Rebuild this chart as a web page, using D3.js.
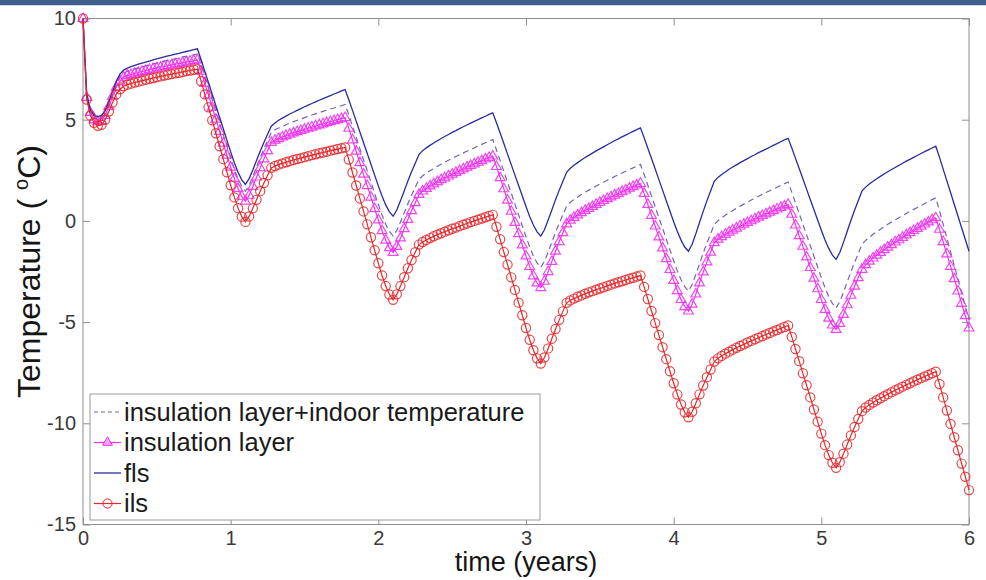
<!DOCTYPE html>
<html>
<head>
<meta charset="utf-8">
<script src="https://cdn.jsdelivr.net/npm/d3@7"></script>
<style>
body { margin: 0; background: #fff; }
svg { display: block; font-family: "Liberation Sans", Arial, sans-serif; }
</style>
</head>
<body>
<svg id="SVG_CONTAINER" width="986" height="580"></svg>
<script>
// sampled every 1/40 year, 0 .. 6
const years = d3.range(241).map(i => i / 40);

const xTicks = [0, 1, 2, 3, 4, 5, 6];
const yTicks = [-15, -10, -5, 0, 5, 10];

const seriesNames = ["insulation layer+indoor temperature", "insulation layer", "fls", "ils"];

// insulation layer + indoor temperature (dashed)
const indoorTemp = [
  10, 6.2, 5.4, 5.1, 5.0, 5.05, 5.3, 5.75, 6.25, 6.75, 7.1, 7.3, 7.39, 7.45, 7.51, 7.56, 7.61, 7.66, 7.71, 7.76, 7.80, 7.85, 7.89, 7.93, 7.97, 8.01, 8.05, 8.10, 8.13, 8.17, 8.21, 8.25,
  7.71, 7.13, 6.56, 5.98, 5.40, 4.83, 4.25, 3.67, 3.10, 2.55, 2.08, 1.71, 1.47, 1.76, 2.20, 2.66, 3.12, 3.56, 3.96, 4.37, 4.50, 4.59, 4.67, 4.75, 4.83, 4.90, 4.97, 5.03, 5.10, 5.16, 5.23, 5.29, 5.35, 5.41, 5.47, 5.53, 5.58, 5.64, 5.69, 5.75,
  5.23, 4.68, 4.13, 3.57, 3.02, 2.47, 1.92, 1.36, 0.81, 0.29, -0.17, -0.52, -0.75, -0.47, -0.05, 0.40, 0.85, 1.27, 1.66, 2.05, 2.23, 2.36, 2.48, 2.59, 2.70, 2.80, 2.90, 3.00, 3.09, 3.18, 3.27, 3.36, 3.44, 3.53, 3.61, 3.70, 3.78, 3.86, 3.94, 4.02,
  3.51, 2.98, 2.44, 1.90, 1.37, 0.83, 0.29, -0.25, -0.78, -1.29, -1.73, -2.08, -2.30, -2.00, -1.54, -1.06, -0.57, -0.12, 0.31, 0.73, 0.92, 1.06, 1.18, 1.30, 1.41, 1.52, 1.62, 1.72, 1.82, 1.91, 2.01, 2.10, 2.19, 2.28, 2.37, 2.45, 2.54, 2.62, 2.71, 2.79,
  2.29, 1.76, 1.23, 0.69, 0.16, -0.37, -0.90, -1.44, -1.97, -2.47, -2.91, -3.25, -3.47, -3.14, -2.65, -2.12, -1.60, -1.10, -0.64, -0.18, 0.01, 0.15, 0.28, 0.40, 0.51, 0.62, 0.73, 0.83, 0.93, 1.03, 1.12, 1.22, 1.31, 1.40, 1.49, 1.58, 1.66, 1.75, 1.84, 1.92,
  1.42, 0.89, 0.37, -0.16, -0.69, -1.22, -1.75, -2.28, -2.81, -3.30, -3.74, -4.08, -4.30, -3.99, -3.52, -3.02, -2.52, -2.05, -1.61, -1.17, -0.96, -0.81, -0.66, -0.53, -0.41, -0.29, -0.17, -0.06, 0.05, 0.16, 0.26, 0.37, 0.47, 0.57, 0.66, 0.76, 0.86, 0.95, 1.05, 1.14,
  0.51, -0.17, -0.85, -1.52, -2.20, -2.87, -3.55, -4.22, -4.90
];

// insulation layer (magenta, triangles)
const insulation = [
  10, 6.1, 5.35, 5.0, 4.9, 4.95, 5.2, 5.65, 6.15, 6.6, 6.9, 7.1, 7.18, 7.23, 7.29, 7.33, 7.38, 7.42, 7.47, 7.51, 7.55, 7.59, 7.63, 7.67, 7.70, 7.74, 7.77, 7.81, 7.85, 7.88, 7.92, 7.95,
  7.39, 6.80, 6.21, 5.61, 5.02, 4.42, 3.83, 3.24, 2.65, 2.09, 1.60, 1.21, 0.97, 1.26, 1.70, 2.16, 2.62, 3.06, 3.46, 3.87, 3.98, 4.06, 4.14, 4.21, 4.28, 4.34, 4.40, 4.46, 4.52, 4.58, 4.63, 4.69, 4.74, 4.79, 4.85, 4.90, 4.95, 5.00, 5.05, 5.10,
  4.57, 4.00, 3.44, 2.87, 2.30, 1.74, 1.17, 0.60, 0.04, -0.49, -0.96, -1.33, -1.56, -1.27, -0.85, -0.39, 0.07, 0.50, 0.90, 1.30, 1.47, 1.60, 1.72, 1.82, 1.93, 2.03, 2.12, 2.21, 2.30, 2.39, 2.48, 2.56, 2.65, 2.73, 2.81, 2.89, 2.97, 3.05, 3.12, 3.20,
  2.68, 2.13, 1.58, 1.02, 0.47, -0.08, -0.64, -1.19, -1.74, -2.26, -2.72, -3.07, -3.30, -2.99, -2.51, -2.01, -1.50, -1.03, -0.59, -0.15, 0.03, 0.17, 0.29, 0.40, 0.51, 0.61, 0.71, 0.81, 0.91, 1.00, 1.09, 1.18, 1.27, 1.35, 1.44, 1.52, 1.61, 1.69, 1.77, 1.85,
  1.35, 0.81, 0.27, -0.26, -0.80, -1.34, -1.87, -2.41, -2.95, -3.45, -3.89, -4.24, -4.46, -4.12, -3.62, -3.07, -2.53, -2.03, -1.55, -1.08, -0.91, -0.78, -0.67, -0.56, -0.46, -0.36, -0.26, -0.17, -0.08, 0.00, 0.09, 0.18, 0.26, 0.34, 0.42, 0.50, 0.58, 0.66, 0.73, 0.81,
  0.32, -0.21, -0.74, -1.26, -1.79, -2.31, -2.84, -3.36, -3.89, -4.38, -4.81, -5.15, -5.37, -5.07, -4.63, -4.15, -3.68, -3.23, -2.81, -2.40, -2.17, -2.00, -1.84, -1.70, -1.56, -1.43, -1.30, -1.18, -1.05, -0.94, -0.82, -0.70, -0.59, -0.48, -0.38, -0.27, -0.16, -0.06, 0.05, 0.15,
  -0.42, -1.03, -1.64, -2.25, -2.86, -3.47, -4.08, -4.69, -5.30
];

// fls (blue solid)
const fls = [
  10, 6.3, 5.5, 5.2, 5.15, 5.2, 5.45, 5.9, 6.4, 6.9, 7.25, 7.45, 7.55, 7.62, 7.68, 7.74, 7.80, 7.85, 7.90, 7.95, 8.00, 8.05, 8.10, 8.15, 8.19, 8.24, 8.28, 8.33, 8.37, 8.41, 8.46, 8.50,
  7.96, 7.39, 6.83, 6.26, 5.69, 5.12, 4.55, 3.98, 3.41, 2.87, 2.40, 2.03, 1.80, 2.09, 2.52, 2.98, 3.44, 3.87, 4.28, 4.68, 4.84, 4.97, 5.08, 5.18, 5.28, 5.37, 5.46, 5.55, 5.64, 5.72, 5.80, 5.88, 5.96, 6.04, 6.12, 6.19, 6.27, 6.34, 6.42, 6.49,
  5.99, 5.46, 4.93, 4.39, 3.86, 3.33, 2.80, 2.26, 1.73, 1.23, 0.79, 0.45, 0.23, 0.54, 0.99, 1.48, 1.97, 2.43, 2.85, 3.28, 3.47, 3.61, 3.73, 3.85, 3.96, 4.07, 4.17, 4.27, 4.37, 4.46, 4.56, 4.65, 4.74, 4.83, 4.92, 5.00, 5.09, 5.17, 5.26, 5.34,
  4.85, 4.34, 3.82, 3.30, 2.78, 2.26, 1.75, 1.23, 0.71, 0.22, -0.20, -0.54, -0.75, -0.44, 0.04, 0.54, 1.05, 1.52, 1.96, 2.40, 2.60, 2.75, 2.88, 3.01, 3.13, 3.24, 3.35, 3.46, 3.56, 3.66, 3.76, 3.86, 3.96, 4.05, 4.15, 4.24, 4.33, 4.42, 4.51, 4.60,
  4.11, 3.59, 3.08, 2.56, 2.04, 1.52, 1.00, 0.48, -0.04, -0.52, -0.95, -1.29, -1.50, -1.15, -0.64, -0.08, 0.47, 0.99, 1.48, 1.96, 2.15, 2.29, 2.42, 2.55, 2.66, 2.77, 2.88, 2.98, 3.08, 3.18, 3.27, 3.37, 3.46, 3.55, 3.64, 3.73, 3.82, 3.91, 4.00, 4.08,
  3.60, 3.09, 2.59, 2.08, 1.57, 1.06, 0.55, 0.04, -0.46, -0.94, -1.36, -1.69, -1.90, -1.56, -1.06, -0.52, 0.02, 0.53, 1.00, 1.47, 1.67, 1.82, 1.96, 2.08, 2.20, 2.32, 2.43, 2.54, 2.64, 2.74, 2.85, 2.95, 3.04, 3.14, 3.23, 3.33, 3.42, 3.51, 3.60, 3.69,
  3.15, 2.56, 1.98, 1.40, 0.82, 0.24, -0.34, -0.92, -1.50
];

// ils (red, circles)
const ils = [
  10, 6.0, 5.2, 4.85, 4.7, 4.75, 5.0, 5.4, 5.85, 6.25, 6.5, 6.65, 6.73, 6.78, 6.84, 6.88, 6.93, 6.97, 7.02, 7.06, 7.10, 7.14, 7.18, 7.22, 7.25, 7.29, 7.32, 7.36, 7.40, 7.43, 7.47, 7.50,
  6.90, 6.25, 5.61, 4.97, 4.33, 3.69, 3.05, 2.40, 1.76, 1.16, 0.63, 0.21, -0.05, 0.22, 0.62, 1.04, 1.47, 1.87, 2.25, 2.62, 2.71, 2.78, 2.84, 2.90, 2.95, 3.01, 3.06, 3.10, 3.15, 3.20, 3.25, 3.29, 3.34, 3.38, 3.42, 3.47, 3.51, 3.55, 3.59, 3.63,
  3.03, 2.39, 1.75, 1.11, 0.47, -0.17, -0.81, -1.45, -2.09, -2.70, -3.22, -3.64, -3.90, -3.63, -3.22, -2.78, -2.34, -1.93, -1.55, -1.17, -1.04, -0.94, -0.85, -0.76, -0.68, -0.61, -0.53, -0.46, -0.39, -0.33, -0.26, -0.19, -0.13, -0.06, 0.00, 0.06, 0.12, 0.18, 0.24, 0.30,
  -0.29, -0.91, -1.54, -2.16, -2.79, -3.41, -4.04, -4.66, -5.29, -5.87, -6.39, -6.79, -7.05, -6.75, -6.30, -5.82, -5.34, -4.89, -4.47, -4.05, -3.93, -3.84, -3.75, -3.68, -3.60, -3.53, -3.47, -3.40, -3.34, -3.28, -3.21, -3.15, -3.09, -3.03, -2.98, -2.92, -2.86, -2.81, -2.75, -2.70,
  -3.26, -3.86, -4.45, -5.05, -5.64, -6.24, -6.83, -7.43, -8.02, -8.58, -9.07, -9.46, -9.70, -9.43, -9.01, -8.57, -8.13, -7.72, -7.34, -6.95, -6.79, -6.67, -6.56, -6.46, -6.36, -6.27, -6.18, -6.10, -6.01, -5.93, -5.85, -5.77, -5.69, -5.61, -5.54, -5.46, -5.39, -5.31, -5.24, -5.17,
  -5.73, -6.33, -6.93, -7.53, -8.12, -8.72, -9.32, -9.92, -10.51, -11.08, -11.57, -11.95, -12.20, -11.92, -11.50, -11.05, -10.60, -10.18, -9.79, -9.40, -9.22, -9.09, -8.97, -8.86, -8.76, -8.66, -8.56, -8.46, -8.37, -8.28, -8.19, -8.10, -8.02, -7.93, -7.85, -7.77, -7.69, -7.61, -7.53, -7.45,
  -8.06, -8.72, -9.37, -10.03, -10.69, -11.33, -11.99, -12.64, -13.30
];

const width = 986, height = 580;
const MARGIN = { LEFT: 83, RIGHT: 17, TOP: 18.5, BOTTOM: 55.5 };

const svg = d3.select("#SVG_CONTAINER");

const xScale = d3.scaleLinear().domain([0, 6]).range([MARGIN.LEFT, width - MARGIN.RIGHT]);
const yScale = d3.scaleLinear().domain([-15, 10]).range([height - MARGIN.BOTTOM, MARGIN.TOP]);

// banner strip at the very top
svg.append("rect").attr("x", 0).attr("y", 0).attr("width", width).attr("height", 5).attr("fill", "#3f5e8d");
svg.append("line").attr("x1", 0).attr("x2", width).attr("y1", 5.5).attr("y2", 5.5).attr("stroke", "#c9d3e2");

const series = [
  { name: seriesNames[0], values: indoorTemp, color: "#7462b5", dash: "6,4", width: 1.2, marker: null },
  { name: seriesNames[1], values: insulation, color: "#ee33ee", dash: null, width: 1.2, marker: "triangle" },
  { name: seriesNames[2], values: fls, color: "#2a2a9e", dash: null, width: 1.3, marker: null },
  { name: seriesNames[3], values: ils, color: "#e3282b", dash: null, width: 1.2, marker: "circle" }
];

svg.append("defs").append("clipPath").attr("id", "plotClip")
  .append("rect")
  .attr("x", MARGIN.LEFT - 6).attr("y", MARGIN.TOP - 6)
  .attr("width", width - MARGIN.LEFT - MARGIN.RIGHT + 12)
  .attr("height", height - MARGIN.TOP - MARGIN.BOTTOM + 12);

// frame
svg.append("rect")
  .attr("x", MARGIN.LEFT).attr("y", MARGIN.TOP)
  .attr("width", width - MARGIN.LEFT - MARGIN.RIGHT)
  .attr("height", height - MARGIN.TOP - MARGIN.BOTTOM)
  .attr("fill", "none").attr("stroke", "#8e8e8e").attr("stroke-width", 1);

// axes, ticks pointing inwards; plain hyphen minus like the original
const plainFormat = d => String(d);
const xAxis = d3.axisBottom(xScale).tickValues(xTicks).tickFormat(plainFormat).tickSizeInner(-7).tickSizeOuter(0).tickPadding(6);
const yAxis = d3.axisLeft(yScale).tickValues(yTicks).tickFormat(plainFormat).tickSizeInner(-7).tickSizeOuter(0).tickPadding(7);
const xAxisTop = d3.axisTop(xScale).tickValues(xTicks).tickSizeInner(-7).tickSizeOuter(0).tickFormat("");
const yAxisRight = d3.axisRight(yScale).tickValues(yTicks).tickSizeInner(-7).tickSizeOuter(0).tickFormat("");

function styleAxis(g) {
  g.select(".domain").remove();
  g.selectAll(".tick line").attr("stroke", "#8e8e8e");
  g.selectAll(".tick text")
    .attr("fill", "#3a3a3a")
    .style("font-size", "20px")
    .style("font-family", "'Liberation Sans', Arial, sans-serif");
}

svg.append("g").attr("transform", "translate(0," + (height - MARGIN.BOTTOM) + ")").call(xAxis).call(styleAxis);
svg.append("g").attr("transform", "translate(" + MARGIN.LEFT + ",0)").call(yAxis).call(styleAxis);
svg.append("g").attr("transform", "translate(0," + MARGIN.TOP + ")").call(xAxisTop).call(styleAxis);
svg.append("g").attr("transform", "translate(" + (width - MARGIN.RIGHT) + ",0)").call(yAxisRight).call(styleAxis);

// lines and markers
const line = d3.line()
  .x((d, i) => xScale(years[i]))
  .y(d => yScale(d));

const triangle = d3.symbol().type(d3.symbolTriangle).size(42);

const plot = svg.append("g").attr("clip-path", "url(#plotClip)");

series.forEach(function (s) {
  plot.append("path")
    .datum(s.values)
    .attr("d", line)
    .attr("fill", "none")
    .attr("stroke", s.color)
    .attr("stroke-width", s.width)
    .attr("stroke-dasharray", s.dash);

  if (s.marker === "circle") {
    plot.append("g").selectAll("circle")
      .data(s.values)
      .enter()
      .append("circle")
      .attr("cx", (d, i) => xScale(years[i]))
      .attr("cy", d => yScale(d))
      .attr("r", 4.6)
      .attr("fill", "none")
      .attr("stroke", s.color)
      .attr("stroke-opacity", 0.85)
      .attr("stroke-width", 1.2);
  } else if (s.marker === "triangle") {
    plot.append("g").selectAll("path")
      .data(s.values)
      .enter()
      .append("path")
      .attr("d", triangle)
      .attr("transform", (d, i) => "translate(" + xScale(years[i]) + "," + yScale(d) + ")")
      .attr("fill", "none")
      .attr("stroke", s.color)
      .attr("stroke-opacity", 0.9)
      .attr("stroke-width", 1.2);
  }
});

// legend
const legend = svg.append("g");
legend.append("rect")
  .attr("x", 90).attr("y", 394).attr("width", 450).attr("height", 126)
  .attr("fill", "#fff").attr("stroke", "#9a9a9a").attr("stroke-width", 1);

series.forEach(function (s, i) {
  const ly = 412 + i * 30.5;
  legend.append("line")
    .attr("x1", 94).attr("x2", 121).attr("y1", ly).attr("y2", ly)
    .attr("stroke", s.color).attr("stroke-width", s.width)
    .attr("stroke-dasharray", s.dash ? "4,3" : null);
  if (s.marker === "circle") {
    legend.append("circle").attr("cx", 107.5).attr("cy", ly).attr("r", 4.6)
      .attr("fill", "none").attr("stroke", s.color);
  } else if (s.marker === "triangle") {
    legend.append("path").attr("d", triangle)
      .attr("transform", "translate(107.5," + ly + ")")
      .attr("fill", "#f6a6f6").attr("stroke", s.color);
  }
  legend.append("text")
    .attr("x", 124).attr("y", ly).attr("dy", "0.35em")
    .attr("font-size", 25.5).attr("fill", "#1a1a1a")
    .text(s.name);
});

// axis titles
svg.append("text")
  .attr("x", (MARGIN.LEFT + width - MARGIN.RIGHT) / 2)
  .attr("y", 571)
  .attr("text-anchor", "middle")
  .attr("font-size", 27)
  .attr("fill", "#151515")
  .text("time (years)");

const yTitle = svg.append("text")
  .attr("transform", "translate(40," + ((MARGIN.TOP + height - MARGIN.BOTTOM) / 2) + ") rotate(-90)")
  .attr("text-anchor", "middle")
  .attr("font-size", 32)
  .attr("fill", "#151515");
yTitle.append("tspan").text("Temperature ( ");
yTitle.append("tspan").attr("font-size", 20).attr("dy", -12).text("o");
yTitle.append("tspan").attr("dy", 12).text("C)");
</script>
</body>
</html>
